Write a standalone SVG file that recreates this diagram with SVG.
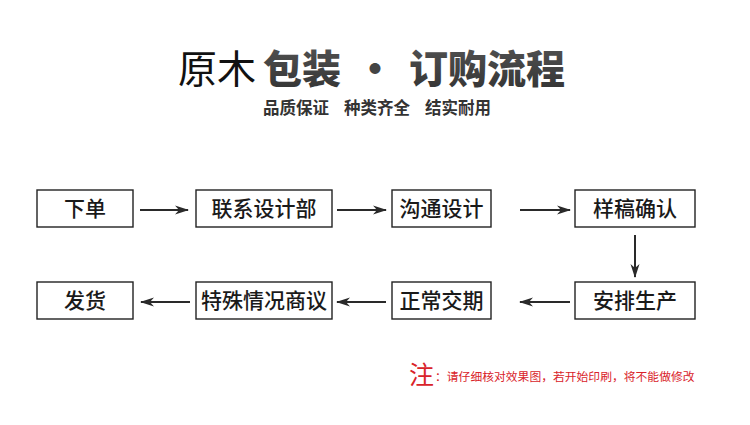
<svg xmlns="http://www.w3.org/2000/svg" width="750" height="425" viewBox="0 0 750 425">
<defs>
<style>
.box{fill:#fff;stroke:#222;stroke-width:1.4}
.lbl{font-family:"Noto Sans CJK SC","Noto Sans",sans-serif;font-size:21px;font-weight:500;fill:#1a1a1a;text-anchor:middle}
.ln{stroke:#2a2a2a;stroke-width:2;fill:none}
.sub{font-family:"Noto Sans CJK SC",sans-serif;font-size:16.5px;font-weight:700;fill:#333}
.tt{font-family:"Noto Sans CJK SC",sans-serif;font-size:39px}
</style>
<marker id="ah" viewBox="0 0 14 10" refX="13" refY="5" markerWidth="14" markerHeight="10" orient="auto" markerUnits="userSpaceOnUse">
<path d="M0,0.5 L14,5 L0,9.5 L4,5 Z" fill="#2a2a2a"/>
</marker>
<linearGradient id="tg" x1="0" y1="0" x2="0" y2="1">
<stop offset="0" stop-color="#555"/>
<stop offset="1" stop-color="#333"/>
</linearGradient>
</defs>
<rect width="750" height="425" fill="#fff"/>
<g id="title">
<text class="tt" x="178" y="83" font-weight="400" fill="#111">原木</text>
<text class="tt" x="263" y="83" font-weight="900" fill="url(#tg)">包装</text>
<text class="tt" x="375" y="83" font-weight="900" fill="#444" text-anchor="middle">·</text>
<text class="tt" x="409" y="83" font-weight="900" fill="url(#tg)">订购流程</text>
<text class="sub" x="263" y="114">品质保证</text>
<text class="sub" x="344" y="114">种类齐全</text>
<text class="sub" x="425" y="114">结实耐用</text>
</g>
<g id="n1"><rect class="box" x="37" y="190" width="96" height="37"/><text class="lbl" x="85" y="216">下单</text></g>
<g id="n2"><rect class="box" x="196" y="190" width="136" height="37"/><text class="lbl" x="264" y="216">联系设计部</text></g>
<g id="n3"><rect class="box" x="392" y="190" width="99" height="37"/><text class="lbl" x="441.5" y="216">沟通设计</text></g>
<g id="n4"><rect class="box" x="575" y="190" width="120" height="37"/><text class="lbl" x="635" y="216">样稿确认</text></g>
<g id="n5"><rect class="box" x="575" y="282" width="120" height="37"/><text class="lbl" x="635" y="308">安排生产</text></g>
<g id="n6"><rect class="box" x="392" y="282" width="99" height="37"/><text class="lbl" x="441.5" y="308">正常交期</text></g>
<g id="n7"><rect class="box" x="196" y="282" width="136" height="37"/><text class="lbl" x="264" y="308">特殊情况商议</text></g>
<g id="n8"><rect class="box" x="37" y="282" width="96" height="37"/><text class="lbl" x="85" y="308">发货</text></g>
<g id="connectors">
<line class="ln" x1="140" y1="210" x2="188" y2="210" marker-end="url(#ah)"/>
<line class="ln" x1="337" y1="210" x2="386" y2="210" marker-end="url(#ah)"/>
<line class="ln" x1="520" y1="210" x2="570" y2="210" marker-end="url(#ah)"/>
<line class="ln" x1="635" y1="235" x2="635" y2="277" marker-end="url(#ah)"/>
<line class="ln" x1="570" y1="302" x2="520" y2="302" marker-end="url(#ah)"/>
<line class="ln" x1="386" y1="302" x2="337" y2="302" marker-end="url(#ah)"/>
<line class="ln" x1="190" y1="302" x2="141" y2="302" marker-end="url(#ah)"/>
</g>
<g id="note">
<text x="409" y="384" font-family="'Noto Sans CJK SC',sans-serif" font-size="25" fill="#d9232a">注</text>
<text x="435" y="381" font-family="'Noto Sans CJK SC',sans-serif" font-size="11.8" fill="#d9232a">：请仔细核对效果图，若开始印刷，将不能做修改</text>
</g>
</svg>
